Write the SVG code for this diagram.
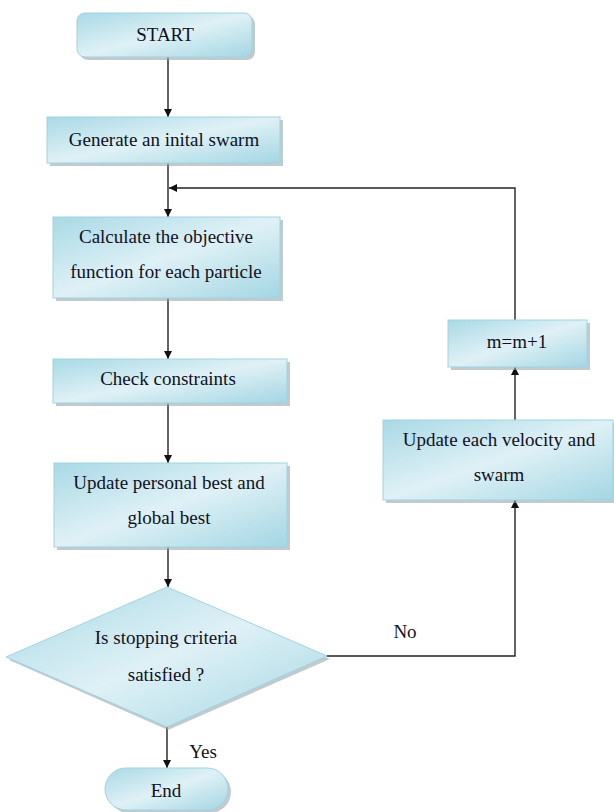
<svg xmlns="http://www.w3.org/2000/svg" width="614" height="812" viewBox="0 0 614 812">
<style>
.box{fill:url(#g);stroke:#9fd3e0;stroke-width:1}
.sh{fill:#9aa7ab;opacity:0.6}
.t{font-family:'Liberation Serif','Times New Roman',serif;font-size:19px;fill:#111122;text-anchor:middle}
.c{fill:none;stroke:#222;stroke-width:1.4}
</style>
<defs>
<linearGradient id="g" x1="0" y1="0" x2="1" y2="1">
<stop offset="0" stop-color="#a9d9e6"/>
<stop offset="0.5" stop-color="#dff1f6"/>
<stop offset="1" stop-color="#a3d6e3"/>
</linearGradient>
<marker id="a" viewBox="0 0 10 10" refX="10" refY="5" markerWidth="8" markerHeight="8" markerUnits="userSpaceOnUse" orient="auto">
<path d="M0,0 L10,5 L0,10 z" fill="#111"/>
</marker>
</defs>
<g id="connectors">
<line class="c" x1="168" y1="57" x2="168" y2="117" marker-end="url(#a)"/>
<line class="c" x1="168" y1="163" x2="168" y2="217" marker-end="url(#a)"/>
<line class="c" x1="168" y1="298" x2="168" y2="359" marker-end="url(#a)"/>
<line class="c" x1="168" y1="403" x2="168" y2="463" marker-end="url(#a)"/>
<line class="c" x1="168" y1="547" x2="168" y2="587" marker-end="url(#a)"/>
<line class="c" x1="167" y1="727" x2="167" y2="768" marker-end="url(#a)"/>
<polyline class="c" points="327,656 515,656 515,500" marker-end="url(#a)"/>
<line class="c" x1="515" y1="420" x2="515" y2="367" marker-end="url(#a)"/>
<polyline class="c" points="515,320 515,188 169,188" marker-end="url(#a)"/>
</g>
<g id="start">
<rect class="sh" x="80" y="16" width="175" height="44" rx="8"/>
<rect class="box" x="77" y="13" width="175" height="44" rx="8"/>
<text class="t" x="165" y="41">START</text>
</g>
<g id="generate">
<rect class="sh" x="50" y="120" width="233" height="46"/>
<rect class="box" x="47" y="117" width="233" height="46"/>
<text class="t" x="164" y="146">Generate an inital swarm</text>
</g>
<g id="calculate">
<rect class="sh" x="56" y="220" width="227" height="81"/>
<rect class="box" x="53" y="217" width="227" height="81"/>
<text class="t" x="166" y="243">Calculate the objective</text>
<text class="t" x="166" y="278">function for each particle</text>
</g>
<g id="check">
<rect class="sh" x="56" y="362" width="234" height="44"/>
<rect class="box" x="53" y="359" width="234" height="44"/>
<text class="t" x="168" y="385">Check constraints</text>
</g>
<g id="update">
<rect class="sh" x="57" y="466" width="233" height="84"/>
<rect class="box" x="54" y="463" width="233" height="84"/>
<text class="t" x="169" y="489">Update personal best and</text>
<text class="t" x="169" y="524">global best</text>
</g>
<g id="decision">
<polygon class="sh" points="168,590 330,659 168,730 9,660"/>
<polygon class="box" points="167,587 327,656 167,727 6,657"/>
<text class="t" x="166" y="644">Is stopping criteria</text>
<text class="t" x="166" y="681">satisfied ?</text>
</g>
<g id="end">
<rect class="sh" x="108" y="771" width="123" height="42" rx="21"/>
<rect class="box" x="105" y="768" width="123" height="42" rx="21"/>
<text class="t" x="166" y="797">End</text>
</g>
<g id="velocity">
<rect class="sh" x="386" y="423" width="230" height="80"/>
<rect class="box" x="383" y="420" width="230" height="80"/>
<text class="t" x="499" y="446">Update each velocity and</text>
<text class="t" x="499" y="481">swarm</text>
</g>
<g id="increment">
<rect class="sh" x="451" y="323" width="139" height="47"/>
<rect class="box" x="448" y="320" width="139" height="47"/>
<text class="t" x="517" y="348">m=m+1</text>
</g>
<g id="labels">
<text class="t" x="405" y="638">No</text>
<text class="t" x="203" y="758">Yes</text>
</g>
</svg>
